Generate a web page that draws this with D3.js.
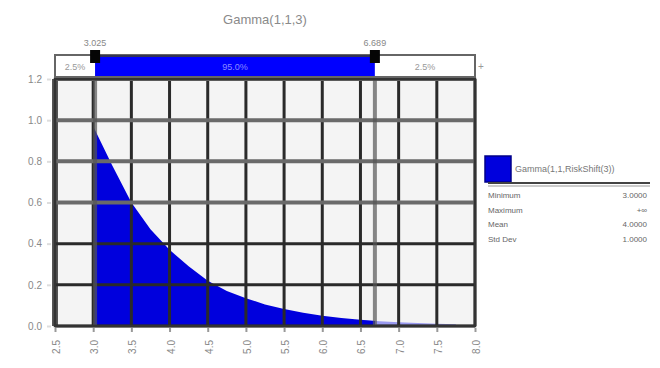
<!DOCTYPE html>
<html>
<head>
<meta charset="utf-8">
<script src="https://cdn.jsdelivr.net/npm/d3@7"></script>
<style>
  body { margin: 0; background: #fff; }
  svg { font-family: "Liberation Sans", Arial, sans-serif; display: block; }
</style>
</head>
<body>
<div id="chart"></div>
<script>
  // density (x, density)
  const xs = [3.0, 3.25, 3.5, 3.75, 4.0, 4.25, 4.5, 4.75, 5.0, 5.25, 5.5, 5.75, 6.0, 6.25, 6.5, 6.75, 7.0, 7.25, 7.5, 7.75];
  const dens = [0.97, 0.78, 0.60, 0.47, 0.37, 0.29, 0.22, 0.17, 0.135, 0.105, 0.082, 0.064, 0.05, 0.039, 0.03, 0.023, 0.018, 0.014, 0.011, 0.008];
  const xTicks = [2.5, 3.0, 3.5, 4.0, 4.5, 5.0, 5.5, 6.0, 6.5, 7.0, 7.5, 8.0];
  const yTicks = [0.0, 0.2, 0.4, 0.6, 0.8, 1.0, 1.2];
  const delimiters = [3.025, 6.689];
  const bandPct = ['2.5%', '95.0%', '2.5%'];
  const statLabels = ['Minimum', 'Maximum', 'Mean', 'Std Dev'];
  const statValues = ['3.0000', '+\u221e', '4.0000', '1.0000'];
  const title = 'Gamma(1,1,3)';
  const legendName = 'Gamma(1,1,RiskShift(3))';

  const W = 660, H = 368;
  const m = { left: 55, right: 475, top: 79, bottom: 326 };

  const svg = d3.select('#chart').append('svg')
    .attr('width', W).attr('height', H);

  const x = d3.scaleLinear().domain([2.5, 8.0]).range([m.left, m.right]);
  const y = d3.scaleLinear().domain([0, 1.2]).range([m.bottom, m.top]);

  // title
  svg.append('text')
    .attr('x', 265).attr('y', 24)
    .attr('text-anchor', 'middle')
    .attr('font-size', 13)
    .attr('fill', '#8a8a8a')
    .text(title);

  // plot background
  svg.append('rect')
    .attr('x', m.left).attr('y', m.top)
    .attr('width', m.right - m.left).attr('height', m.bottom - m.top)
    .attr('fill', '#f4f4f4');

  const pts = xs.map((v, i) => ({ x: v, y: dens[i] }));
  const area = d3.area()
    .x(d => x(d.x))
    .y0(y(0))
    .y1(d => y(d.y));

  // lighter tail beyond the right delimiter
  const cut = delimiters[1];
  const tail = pts.filter(d => d.x >= 6.5);
  svg.append('path')
    .datum(tail)
    .attr('d', area)
    .attr('fill', '#9a9af0');
  svg.append('clipPath').attr('id', 'inclip')
    .append('rect')
    .attr('x', x(2.5)).attr('y', 0)
    .attr('width', x(cut) - x(2.5)).attr('height', H);
  svg.append('path')
    .datum(pts)
    .attr('d', area)
    .attr('clip-path', 'url(#inclip)')
    .attr('fill', '#0000dd');

  // grid
  const grid = svg.append('g');
  grid.selectAll('line.v')
    .data(xTicks)
    .join('line')
    .attr('x1', d => x(d)).attr('x2', d => x(d))
    .attr('y1', m.top).attr('y2', m.bottom)
    .attr('stroke', d => d === 2.5 ? '#555' : '#2a2a2a')
    .attr('stroke-width', d => d === 2.5 ? 6 : 3);
  grid.selectAll('line.h')
    .data(yTicks)
    .join('line')
    .attr('x1', m.left).attr('x2', m.right)
    .attr('y1', d => y(d)).attr('y2', d => y(d))
    .attr('stroke', d => d >= 0.6 ? '#6a6a6a' : '#2a2a2a')
    .attr('stroke-width', d => d >= 0.6 ? 4 : 3);

  // delimiter lines
  svg.selectAll('line.delim')
    .data(delimiters)
    .join('line')
    .attr('x1', d => x(d)).attr('x2', d => x(d))
    .attr('y1', 58).attr('y2', m.bottom)
    .attr('stroke', '#555')
    .attr('stroke-opacity', 0.7)
    .attr('stroke-width', 4);

  // frame
  svg.append('rect')
    .attr('x', m.left).attr('y', m.top)
    .attr('width', m.right - m.left).attr('height', m.bottom - m.top)
    .attr('fill', 'none')
    .attr('stroke', '#333')
    .attr('stroke-width', 2.5);

  // y axis
  const yAxis = svg.append('g')
    .attr('transform', `translate(${m.left - 4},0)`)
    .call(d3.axisLeft(y).tickValues(yTicks).tickFormat(d3.format('.1f')).tickSize(4).tickPadding(5));
  yAxis.select('.domain').remove();
  yAxis.selectAll('line').attr('stroke', '#ddd').attr('stroke-width', 2);
  yAxis.selectAll('text').attr('font-size', 10).attr('fill', '#888')
    .attr('font-family', '"Liberation Sans", Arial, sans-serif');

  // x axis, rotated labels
  const xAxis = svg.append('g')
    .attr('transform', `translate(0,${m.bottom + 2})`)
    .call(d3.axisBottom(x).tickValues(xTicks).tickFormat(d3.format('.1f')).tickSize(4));
  xAxis.select('.domain').remove();
  xAxis.selectAll('line').attr('stroke', '#999').attr('stroke-width', 2);
  xAxis.selectAll('text')
    .attr('font-size', 10).attr('fill', '#888')
    .attr('font-family', '"Liberation Sans", Arial, sans-serif')
    .attr('text-anchor', 'end')
    .attr('transform', 'rotate(-90)')
    .attr('x', -12).attr('y', 1).attr('dy', '0.35em');

  // delimiter band on top
  const bandTop = 55, bandH = 22;
  const segs = [
    { a: 2.5, b: delimiters[0], fill: '#fff', txt: bandPct[0], col: '#999' },
    { a: delimiters[0], b: delimiters[1], fill: '#0000ff', txt: bandPct[1], col: '#8a8aff' },
    { a: delimiters[1], b: 8.0, fill: '#fff', txt: bandPct[2], col: '#999' }
  ];
  const band = svg.append('g');
  band.selectAll('rect')
    .data(segs)
    .join('rect')
    .attr('x', d => x(d.a)).attr('y', bandTop)
    .attr('width', d => x(d.b) - x(d.a)).attr('height', bandH)
    .attr('fill', d => d.fill);
  band.selectAll('text')
    .data(segs)
    .join('text')
    .attr('x', d => (x(d.a) + x(d.b)) / 2)
    .attr('y', bandTop + bandH / 2 + 3.5)
    .attr('text-anchor', 'middle')
    .attr('font-size', 9)
    .attr('fill', d => d.col)
    .text(d => d.txt);
  band.append('rect')
    .attr('x', x(2.5)).attr('y', bandTop)
    .attr('width', x(8.0) - x(2.5)).attr('height', bandH)
    .attr('fill', 'none')
    .attr('stroke', '#666')
    .attr('stroke-width', 2);
  band.append('line')
    .attr('x1', x(delimiters[0])).attr('x2', x(delimiters[1]))
    .attr('y1', bandTop + 1).attr('y2', bandTop + 1)
    .attr('stroke', '#333355').attr('stroke-width', 2);
  band.append('text')
    .attr('x', m.right + 3).attr('y', bandTop + bandH / 2 + 4)
    .attr('font-size', 10).attr('fill', '#999')
    .text('+');

  // delimiter markers and labels
  svg.selectAll('rect.marker')
    .data(delimiters)
    .join('rect')
    .attr('class', 'marker')
    .attr('x', d => x(d) - 5).attr('y', 50)
    .attr('width', 10).attr('height', 13)
    .attr('fill', '#050505');
  svg.selectAll('text.dlab')
    .data(delimiters)
    .join('text')
    .attr('class', 'dlab')
    .attr('x', d => x(d)).attr('y', 46)
    .attr('text-anchor', 'middle')
    .attr('font-size', 9)
    .attr('fill', '#888')
    .text(d => d3.format('.3f')(d));

  // legend
  const lg = svg.append('g');
  lg.append('rect')
    .attr('x', 485).attr('y', 156)
    .attr('width', 26).attr('height', 26)
    .attr('fill', '#0000dd')
    .attr('stroke', '#000088').attr('stroke-width', 1.5);
  lg.append('text')
    .attr('x', 515).attr('y', 172)
    .attr('font-size', 9).attr('fill', '#777')
    .text(legendName);
  lg.append('line')
    .attr('x1', 488).attr('x2', 650).attr('y1', 183).attr('y2', 183)
    .attr('stroke', '#444').attr('stroke-width', 2);
  lg.append('line')
    .attr('x1', 488).attr('x2', 650).attr('y1', 186).attr('y2', 186)
    .attr('stroke', '#bbb').attr('stroke-width', 1.5);
  const rows = lg.selectAll('g.row')
    .data(statLabels)
    .join('g')
    .attr('transform', (d, i) => `translate(0,${198 + i * 14.5})`);
  rows.append('text')
    .attr('x', 488)
    .attr('font-size', 8).attr('fill', '#666')
    .text(d => d);
  rows.append('text')
    .attr('x', 647)
    .attr('text-anchor', 'end')
    .attr('font-size', 8).attr('fill', '#666')
    .text((d, i) => statValues[i]);
</script>
</body>
</html>
